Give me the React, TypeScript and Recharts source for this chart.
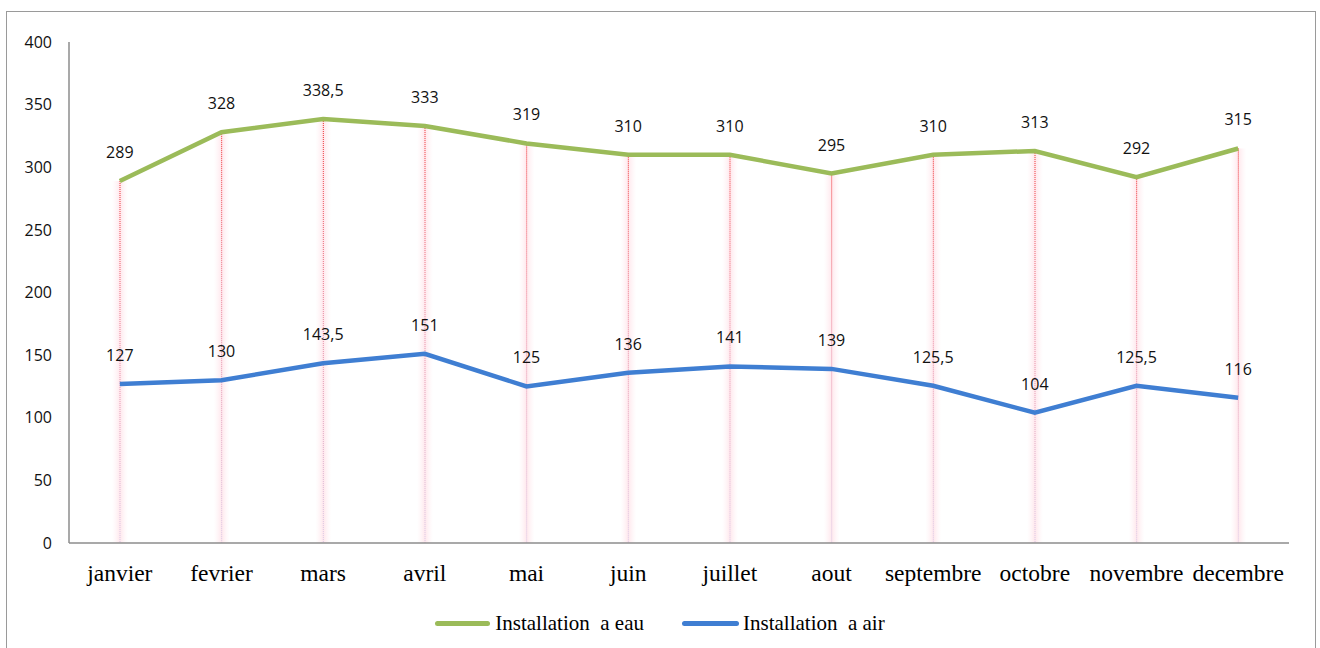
import React from 'react';
import { ComposedChart, Line, Bar, XAxis, YAxis, LabelList } from 'recharts';

const months = ['janvier', 'fevrier', 'mars', 'avril', 'mai', 'juin', 'juillet', 'aout', 'septembre', 'octobre', 'novembre', 'decembre'];
const eauValues = [289, 328, 338.5, 333, 319, 310, 310, 295, 310, 313, 292, 315];
const airValues = [127, 130, 143.5, 151, 125, 136, 141, 139, 125.5, 104, 125.5, 116];
const yTicks = [0, 50, 100, 150, 200, 250, 300, 350, 400];

const GREEN = '#9BBB59';
const BLUE = '#3F7ED2';
const AXIS = '#8c8c8c';

const data = months.map((m, i) => ({ month: m, eau: eauValues[i], air: airValues[i] }));

const fmt = (v: any) => String(v).replace('.', ',');

// vertical drop line from the green point down to the axis, fading red -> lavender
const DropLine = (props: any) => {
    const { x, y, width, height, index } = props;
    if (height == null || height <= 0) return null;
    const cx = x + width / 2;
    const gid = `drop-${index}`;
    const glowId = `glow-${index}`;
    return (
        <g>
            <defs>
                <linearGradient id={gid} gradientUnits="userSpaceOnUse" x1={cx} x2={cx} y1={y} y2={y + height}>
                    <stop offset="0%" stopColor="#ee2a2a" />
                    <stop offset="45%" stopColor="#e88aa0" />
                    <stop offset="100%" stopColor="#d9cbe8" />
                </linearGradient>
                <linearGradient id={glowId} x1="0" x2="1" y1="0" y2="0">
                    <stop offset="0%" stopColor="#fff0f3" stopOpacity={0} />
                    <stop offset="50%" stopColor="#ffe4ea" stopOpacity={0.9} />
                    <stop offset="100%" stopColor="#fff0f3" stopOpacity={0} />
                </linearGradient>
            </defs>
            <rect x={cx - 8} y={y} width={16} height={height} fill={`url(#${glowId})`} />
            <line x1={cx} x2={cx} y1={y} y2={y + height} stroke={`url(#${gid})`} strokeWidth={1} strokeDasharray="1 1" />
        </g>
    );
};

const labelStyle = { fontFamily: '"Open Sans", sans-serif', fontSize: 16, fill: '#111' };

const App: React.FC = () => {
    return (
        <div style={{ position: 'absolute', left: 0, top: 0, width: 1320, height: 648, background: '#fff', overflow: 'hidden' }}>
            <div style={{ position: 'absolute', left: 6, top: 11, width: 1308, height: 660, border: '1px solid #9a9a9a' }} />
            <div style={{ position: 'absolute', left: 0, top: 0 }}>
                <ComposedChart width={1320} height={648} data={data} margin={{ top: 42, right: 31, left: 29, bottom: 45 }}>
                    <XAxis
                        dataKey="month"
                        stroke={AXIS}
                        strokeWidth={1.5}
                        tickLine={false}
                        tickMargin={15}
                        interval={0}
                        height={60}
                        tick={{ fontFamily: '"Liberation Serif", serif', fontSize: 23.5, fill: '#000' }}
                    />
                    <YAxis
                        domain={[0, 400]}
                        ticks={yTicks}
                        width={40}
                        stroke={AXIS}
                        strokeWidth={1.5}
                        tickLine={false}
                        tickMargin={11}
                        tick={{ fontFamily: '"Open Sans", sans-serif', fontSize: 16, fill: '#111' }}
                    />
                    <Bar dataKey="eau" barSize={10} shape={<DropLine />} isAnimationActive={false} />
                    <Line type="linear" dataKey="eau" stroke={GREEN} strokeWidth={4.5} dot={false} isAnimationActive={false}>
                        <LabelList dataKey="eau" position="top" offset={23} formatter={fmt} style={labelStyle} />
                    </Line>
                    <Line type="linear" dataKey="air" stroke={BLUE} strokeWidth={4.5} dot={false} isAnimationActive={false}>
                        <LabelList dataKey="air" position="top" offset={23} formatter={fmt} style={labelStyle} />
                    </Line>
                </ComposedChart>
            </div>
            <div style={{ position: 'absolute', top: 611, left: 0, width: 1320, display: 'flex', justifyContent: 'center', fontFamily: '"Liberation Serif", serif', fontSize: 21, color: '#000' }}>
                <div style={{ display: 'flex', alignItems: 'center', marginRight: 38 }}>
                    <span style={{ display: 'inline-block', width: 55, height: 5, borderRadius: 3, background: GREEN, marginRight: 5 }} />
                    <span style={{ whiteSpace: 'pre' }}>Installation  a eau</span>
                </div>
                <div style={{ display: 'flex', alignItems: 'center' }}>
                    <span style={{ display: 'inline-block', width: 57, height: 5, borderRadius: 3, background: BLUE, marginRight: 4 }} />
                    <span style={{ whiteSpace: 'pre' }}>Installation  a air</span>
                </div>
            </div>
        </div>
    );
};

export default App;
